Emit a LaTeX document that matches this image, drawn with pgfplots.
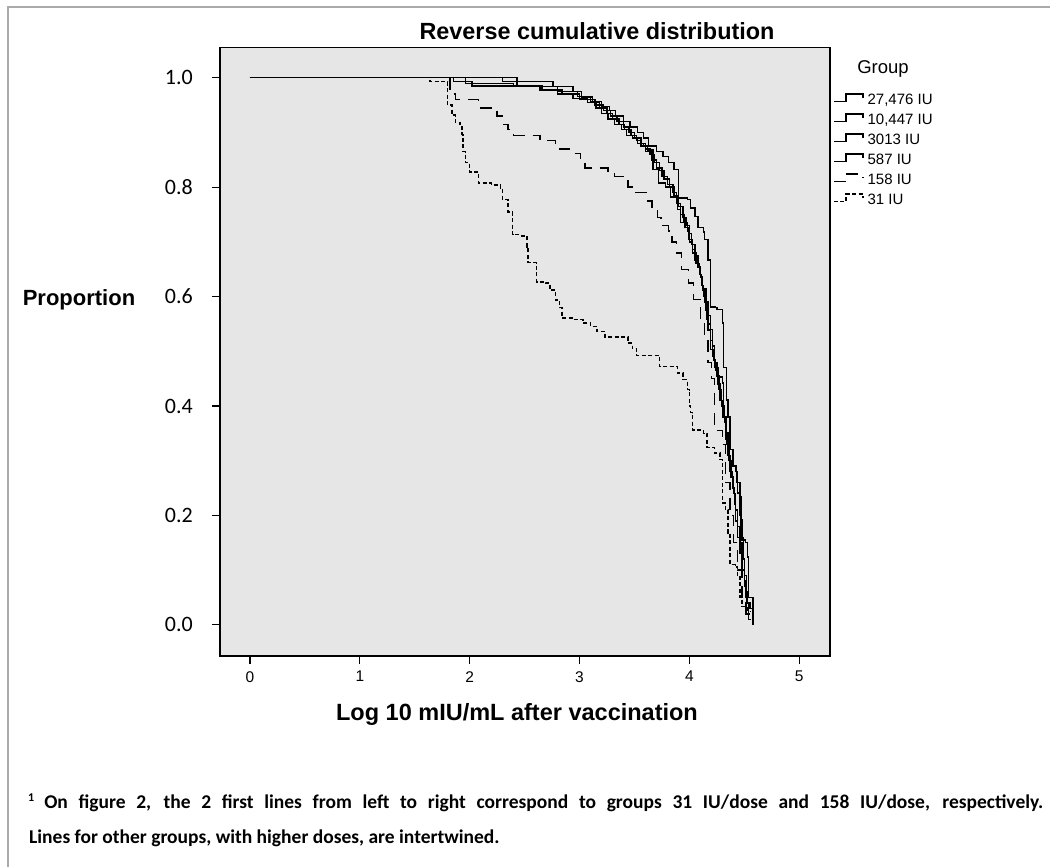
\documentclass[border=0pt]{standalone}
\usepackage{fontspec}
\setmainfont{Liberation Sans}
\newfontfamily\carlito{Carlito}
\usepackage{pgfplots}
\pgfplotsset{compat=1.18}
\definecolor{plotbg}{RGB}{230,230,230}
\definecolor{framegray}{RGB}{170,170,170}

\begin{document}
\begin{tikzpicture}[x=1pt,y=1pt]
\path[use as bounding box] (0,0) rectangle (1050,-867);
\draw[framegray, line width=1.5pt] (8,-870) -- (8,-7) -- (1052,-7);

\begin{axis}[
    at={(220pt,-656pt)}, anchor=south west,
    width=610pt, height=608.3pt, scale only axis,
    xmin=-0.273, xmax=5.28, ymin=-0.057, ymax=1.055,
    axis background/.style={fill=plotbg},
    axis line style={line width=1.3pt},
    tick pos=left, tick align=outside, major tick length=8pt,
    tick style={line width=1.3pt, black},
    xtick={0,1,2,3,4,5}, xticklabels={0,1,2,3,4,5},
    ytick={0,0.2,0.4,0.6,0.8,1.0}, yticklabels={0.0,0.2,0.4,0.6,0.8,1.0},
    xticklabel style={font=\fontsize{15.5}{16}\selectfont, anchor=north, inner sep=0pt, yshift=-7pt},
    yticklabel style={font=\carlito\fontsize{22}{22}\selectfont, anchor=east, inner sep=0pt, xshift=-19pt},
    every axis plot/.append style={line width=1.4pt, black, const plot, mark=none},
    legend image code/.code={\draw[#1] (0pt,-0.7pt) -- (12pt,-0.7pt) -- (12pt,7pt) -- (29pt,7pt) -- (29pt,3pt); \path (32pt,0pt);},
    legend style={at={(axis description cs:1,1)}, anchor=north west, xshift=3pt, yshift=-45pt,
        draw=none, fill=none, inner sep=0pt, row sep=4pt,
        font=\fontsize{15}{15}\selectfont,
        nodes={inner sep=1pt, text height=11pt, text depth=3pt}},
    legend cell align=left,
]
% 27,476 IU
\addplot[solid] coordinates {
(0,1) (2.30,0.993) (2.76,0.984) (2.80,0.975) (2.98,0.966) (3.10,0.957) (3.20,0.948)
(3.27,0.94) (3.33,0.93) (3.40,0.92) (3.46,0.91) (3.53,0.90) (3.58,0.89) (3.63,0.875)
(3.70,0.865) (3.76,0.856) (3.81,0.845) (3.86,0.832) (3.90,0.78) (3.98,0.777) (4.01,0.762)
(4.05,0.746) (4.08,0.726) (4.13,0.718) (4.14,0.704) (4.17,0.667) (4.19,0.581) (4.24,0.58)
(4.25,0.576) (4.30,0.552) (4.31,0.47) (4.34,0.411) (4.35,0.38) (4.37,0.32) (4.40,0.29)
(4.43,0.26) (4.46,0.234) (4.47,0.192) (4.48,0.155) (4.51,0.15) (4.53,0.124) (4.54,0.05)
(4.58,0.0)
};
\addlegendentry{27,476 IU}
% 10,447 IU
\addplot[solid] coordinates {
(0,1) (1.85,0.993) (2.02,0.985) (2.64,0.978) (2.80,0.970) (2.94,0.962) (3.07,0.955)
(3.15,0.945) (3.20,0.935) (3.26,0.925) (3.32,0.915) (3.38,0.905) (3.43,0.895) (3.48,0.89)
(3.53,0.88) (3.58,0.875) (3.62,0.868) (3.67,0.832) (3.72,0.808) (3.78,0.80) (3.83,0.782)
(3.89,0.759) (3.92,0.735) (3.96,0.726) (3.99,0.704) (4.03,0.686) (4.05,0.667) (4.08,0.653)
(4.10,0.636) (4.12,0.612) (4.14,0.589) (4.16,0.558) (4.17,0.539) (4.19,0.503) (4.22,0.484)
(4.24,0.466) (4.26,0.453) (4.30,0.442) (4.31,0.38) (4.34,0.351) (4.35,0.32) (4.39,0.289)
(4.42,0.28) (4.44,0.241) (4.46,0.20) (4.47,0.16) (4.49,0.12) (4.50,0.08) (4.51,0.05)
(4.52,0.02) (4.55,0.02)
};
\addlegendentry{10,447 IU}
% 3013 IU
\addplot[solid] coordinates {
(0,1) (1.96,0.99) (2.40,0.984) (2.94,0.975) (3.02,0.965) (3.12,0.955) (3.18,0.945)
(3.25,0.935) (3.30,0.925) (3.36,0.915) (3.41,0.905) (3.47,0.895) (3.52,0.885) (3.56,0.875)
(3.60,0.865) (3.66,0.85) (3.70,0.835) (3.75,0.82) (3.80,0.805) (3.85,0.79) (3.88,0.77)
(3.92,0.75) (3.95,0.735) (3.98,0.72) (4.00,0.70) (4.03,0.68) (4.06,0.66) (4.09,0.64)
(4.11,0.62) (4.13,0.60) (4.15,0.575) (4.17,0.55) (4.19,0.52) (4.21,0.49) (4.23,0.47)
(4.26,0.44) (4.28,0.41) (4.30,0.38) (4.33,0.34) (4.35,0.31) (4.37,0.28) (4.39,0.25)
(4.41,0.22) (4.42,0.19) (4.44,0.16) (4.46,0.13) (4.48,0.10) (4.50,0.07) (4.52,0.04)
(4.54,0.01) (4.56,0.01)
};
\addlegendentry{3013 IU}
% 587 IU
\addplot[solid] coordinates {
(0,1) (2.43,0.985) (2.66,0.978) (2.84,0.97) (3.00,0.96) (3.14,0.95) (3.22,0.94)
(3.28,0.93) (3.34,0.92) (3.40,0.91) (3.45,0.90) (3.50,0.89) (3.56,0.88) (3.60,0.87)
(3.64,0.86) (3.68,0.845) (3.73,0.83) (3.77,0.815) (3.82,0.80) (3.86,0.785) (3.90,0.765)
(3.94,0.745) (3.97,0.73) (4.00,0.715) (4.02,0.695) (4.05,0.675) (4.08,0.655) (4.10,0.635)
(4.12,0.615) (4.15,0.59) (4.17,0.565) (4.19,0.54) (4.21,0.51) (4.23,0.48) (4.25,0.455)
(4.27,0.43) (4.29,0.40) (4.32,0.37) (4.34,0.33) (4.36,0.30) (4.38,0.27) (4.40,0.24)
(4.42,0.21) (4.44,0.18) (4.46,0.15) (4.48,0.12) (4.50,0.09) (4.52,0.06) (4.53,0.04)
(4.55,0.03) (4.57,0.03)
};
\addlegendentry{587 IU}
% 158 IU
\addplot[dash pattern=on 12pt off 8pt] coordinates {
(0,1) (1.82,0.97) (1.87,0.96) (2.08,0.945) (2.25,0.93) (2.30,0.915) (2.35,0.905)
(2.40,0.895) (2.64,0.885) (2.78,0.87) (2.91,0.862) (3.01,0.85) (3.05,0.835) (3.26,0.828)
(3.32,0.82) (3.44,0.80) (3.48,0.79) (3.62,0.775) (3.66,0.76) (3.71,0.745) (3.74,0.73)
(3.81,0.72) (3.84,0.70) (3.88,0.68) (3.93,0.65) (3.99,0.625) (4.04,0.595) (4.10,0.56)
(4.14,0.52) (4.17,0.48) (4.20,0.45) (4.23,0.355) (4.30,0.33) (4.33,0.26) (4.37,0.20)
(4.40,0.15) (4.44,0.10) (4.48,0.05) (4.51,0.02) (4.54,0.02)
};
\addlegendentry{158 IU}
% 31 IU
\addplot[dash pattern=on 4pt off 2.5pt] coordinates {
(0,1) (1.64,0.993) (1.80,0.95) (1.84,0.932) (1.87,0.918) (1.91,0.91) (1.93,0.896)
(1.94,0.865) (1.96,0.845) (2.00,0.828) (2.07,0.823) (2.08,0.808) (2.20,0.804) (2.28,0.795)
(2.30,0.777) (2.35,0.755) (2.39,0.713) (2.46,0.711) (2.52,0.691) (2.53,0.662) (2.61,0.627)
(2.69,0.625) (2.73,0.612) (2.78,0.594) (2.82,0.580) (2.84,0.561) (2.94,0.558) (3.03,0.552)
(3.10,0.545) (3.16,0.536) (3.23,0.526) (3.44,0.515) (3.48,0.505) (3.52,0.492) (3.73,0.472)
(3.89,0.46) (3.94,0.448) (3.98,0.43) (4.00,0.40) (4.01,0.388) (4.03,0.356) (4.13,0.35)
(4.16,0.324) (4.23,0.314) (4.28,0.302) (4.30,0.223) (4.33,0.21) (4.35,0.168) (4.37,0.11)
(4.42,0.106) (4.44,0.088) (4.46,0.051) (4.48,0.033) (4.53,0.024) (4.55,0.024)
};
\addlegendentry{31 IU}
\end{axis}

\node[font=\bfseries\fontsize{23.4}{24}\selectfont] at (597,-31) {Reverse cumulative distribution};
\node[font=\bfseries\fontsize{22}{22}\selectfont] at (79,-300) {Proportion};
\node[font=\bfseries\fontsize{23.5}{24}\selectfont] at (517,-714) {Log 10 mIU/mL after vaccination};
\node[font=\fontsize{18.5}{19}\selectfont] at (883,-69) {Group};
\node[anchor=base west, inner sep=0pt, font=\carlito\bfseries\fontsize{19.5}{20}\selectfont] at (28,-808)
  {\raisebox{7pt}{\fontsize{12}{12}\selectfont 1}\hspace{10pt}\makebox[999pt][s]{On figure 2, the 2 first lines from left to right correspond to groups 31 IU/dose and 158 IU/dose, respectively.}};
\node[anchor=base west, inner sep=0pt, font=\carlito\bfseries\fontsize{19.5}{20}\selectfont] at (29,-843)
  {Lines for other groups, with higher doses, are intertwined.};
\end{tikzpicture}
\end{document}
